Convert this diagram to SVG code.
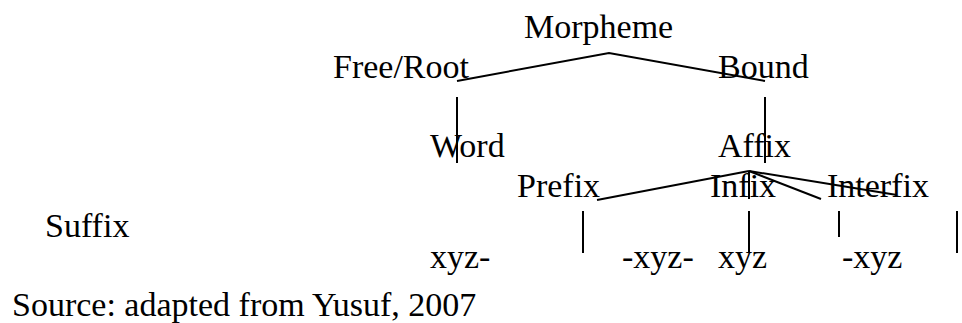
<svg xmlns="http://www.w3.org/2000/svg" width="962" height="323" viewBox="0 0 962 323">
<style>
text{font-family:"Liberation Serif","Times New Roman",serif;font-size:34px;fill:#000}
.c line,.c polyline{stroke:#000;stroke-width:2;fill:none}
</style>
<rect width="962" height="323" fill="#fff"/>
<g class="c" id="connectors">
<polyline points="457,81 609,53 765,81"/>
<line x1="457" y1="97" x2="457" y2="163"/>
<line x1="765" y1="97" x2="765" y2="163"/>
<line x1="749" y1="171" x2="597" y2="200"/>
<line x1="749" y1="171" x2="749" y2="199"/>
<line x1="749" y1="171" x2="821" y2="199"/>
<line x1="749" y1="171" x2="897" y2="195"/>
<line x1="583" y1="211" x2="583" y2="253"/>
<line x1="749" y1="211" x2="749" y2="253"/>
<line x1="839" y1="211" x2="839" y2="237"/>
<line x1="957" y1="211" x2="957" y2="253"/>
</g>
<g id="morpheme"><text x="524" y="38">Morpheme</text></g>
<g id="free"><text x="333" y="78">Free/Root</text></g>
<g id="bound"><text x="718" y="78">Bound</text></g>
<g id="word"><text x="430" y="157">Word</text></g>
<g id="affix"><text x="718" y="157">Affix</text></g>
<g id="prefix"><text x="517" y="197">Prefix</text></g>
<g id="infix"><text x="710" y="197">Infix</text></g>
<g id="interfix"><text x="827" y="197">Interfix</text></g>
<g id="suffix"><text x="45" y="237">Suffix</text></g>
<g id="ex1"><text x="430" y="268">xyz-</text></g>
<g id="ex2"><text x="622" y="268">-xyz-</text></g>
<g id="ex3"><text x="718" y="268">xyz</text></g>
<g id="ex4"><text x="842" y="268">-xyz</text></g>
<g id="source"><text x="12" y="316">Source: adapted from Yusuf, 2007</text></g>
</svg>
